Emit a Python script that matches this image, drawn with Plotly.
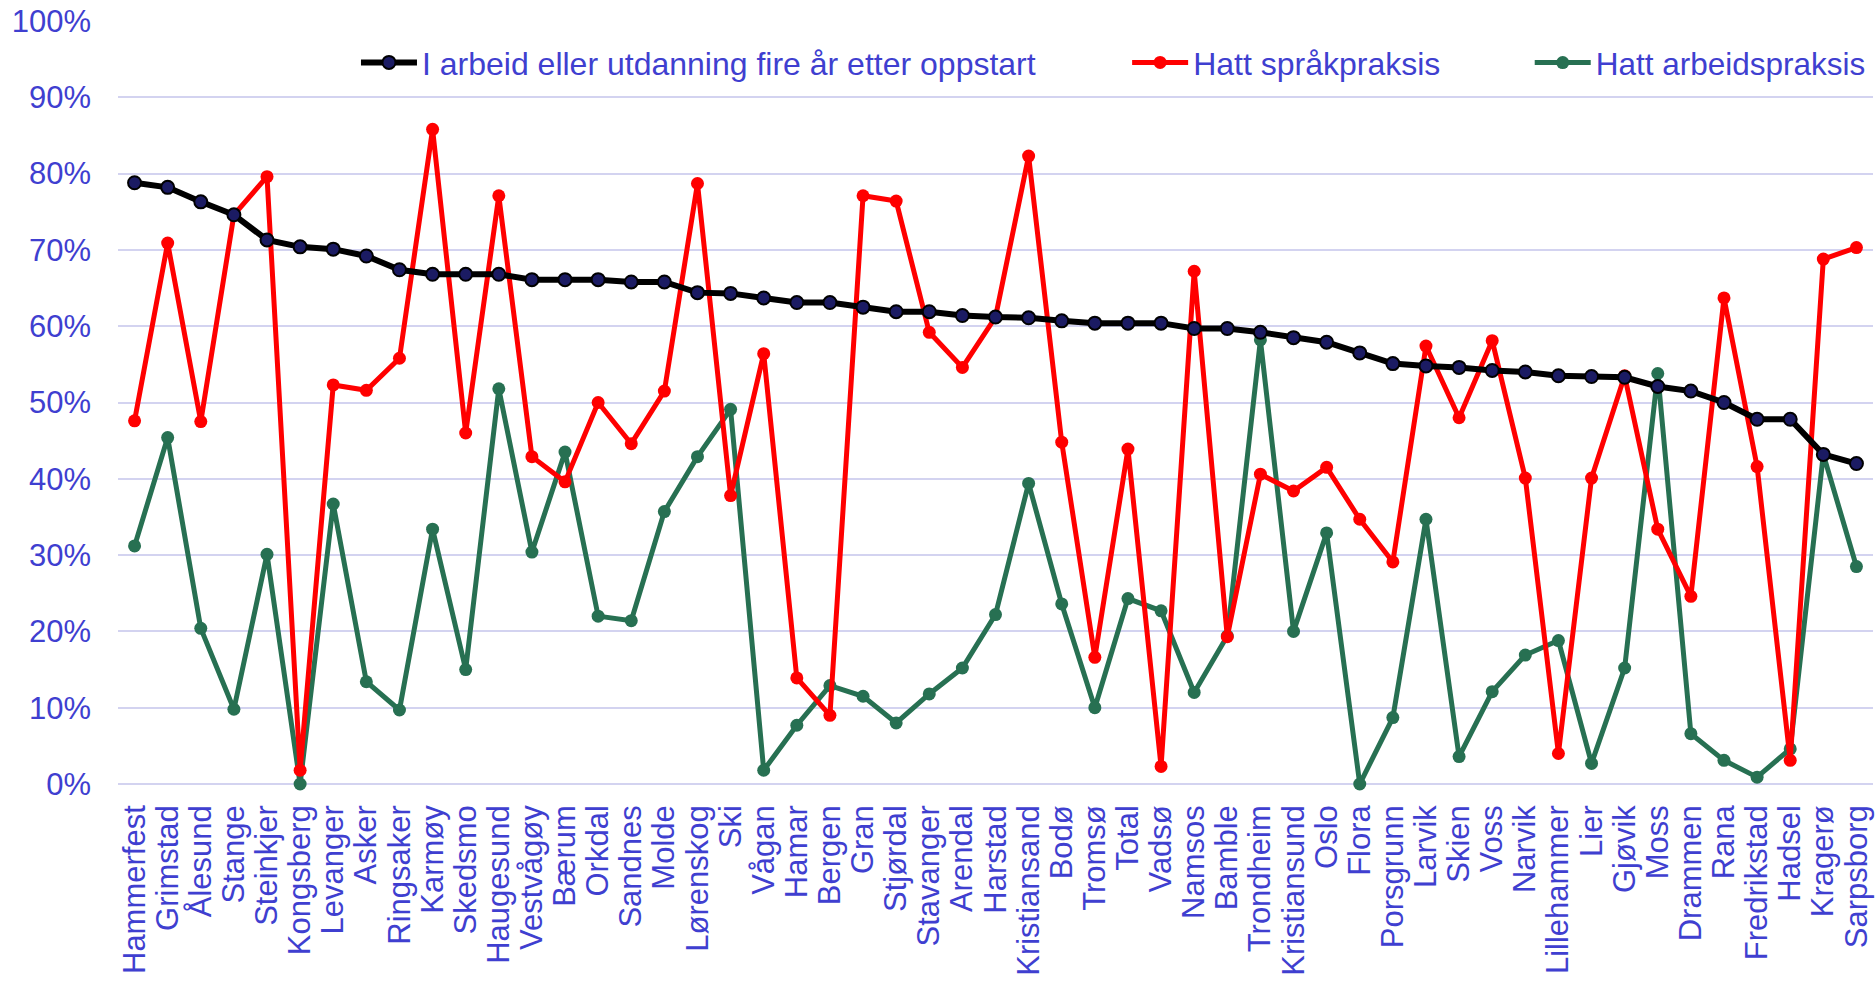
import plotly.graph_objects as go

kommuner = [
  'Hammerfest', 'Grimstad', 'Ålesund', 'Stange', 'Steinkjer', 'Kongsberg', 'Levanger',
  'Asker', 'Ringsaker', 'Karmøy', 'Skedsmo', 'Haugesund', 'Vestvågøy', 'Bærum',
  'Orkdal', 'Sandnes', 'Molde', 'Lørenskog', 'Ski', 'Vågan', 'Hamar', 'Bergen',
  'Gran', 'Stjørdal', 'Stavanger', 'Arendal', 'Harstad', 'Kristiansand', 'Bodø',
  'Tromsø', 'Total', 'Vadsø', 'Namsos', 'Bamble', 'Trondheim', 'Kristiansund',
  'Oslo', 'Flora', 'Porsgrunn', 'Larvik', 'Skien', 'Voss', 'Narvik', 'Lillehammer',
  'Lier', 'Gjøvik', 'Moss', 'Drammen', 'Rana', 'Fredrikstad', 'Hadsel', 'Kragerø',
  'Sarpsborg'
]

i_arbeid = [
  78.8, 78.2, 76.3, 74.6, 71.3, 70.4, 70.1, 69.2, 67.4, 66.8, 66.8, 66.8, 66.1, 66.1,
  66.1, 65.8, 65.8, 64.4, 64.3, 63.7, 63.1, 63.1, 62.5, 61.9, 61.9, 61.4, 61.2, 61.1,
  60.7, 60.4, 60.4, 60.4, 59.7, 59.7, 59.2, 58.5, 57.9, 56.5, 55.1, 54.8, 54.6, 54.2,
  54.0, 53.5, 53.4, 53.3, 52.1, 51.5, 50.0, 47.8, 47.8, 43.2, 42.0
]

spraakpraksis = [
  47.6, 70.9, 47.5, 74.6, 79.6, 1.8, 52.3, 51.6, 55.8, 85.8, 46.0, 77.1, 42.9, 39.6,
  50.0, 44.6, 51.5, 78.7, 37.8, 56.4, 13.9, 9.0, 77.1, 76.4, 59.2, 54.6, 61.2, 82.3,
  44.8, 16.6, 43.9, 2.3, 67.2, 19.3, 40.6, 38.4, 41.5, 34.7, 29.1, 57.4, 48.0, 58.1,
  40.1, 4.0, 40.1, 53.5, 33.4, 24.6, 63.7, 41.6, 3.1, 68.8, 70.3
]

arbeidspraksis = [
  31.2, 45.4, 20.4, 9.8, 30.1, 0.0, 36.7, 13.4, 9.7, 33.4, 15.0, 51.8, 30.4, 43.5,
  22.0, 21.4, 35.7, 42.9, 49.1, 1.8, 7.7, 12.9, 11.5, 8.0, 11.8, 15.2, 22.2, 39.4,
  23.6, 10.0, 24.3, 22.7, 12.0, 19.4, 58.2, 20.0, 32.9, 0.0, 8.7, 34.7, 3.6, 12.1,
  16.9, 18.8, 2.7, 15.2, 53.8, 6.6, 3.1, 0.9, 4.6, 43.2, 28.5
]

blue_text = '#3F3FD0'
font = 'Liberation Sans, Arial, sans-serif'

fig = go.Figure()

# green first, black last so the black line is drawn on top
fig.add_trace(go.Scatter(
  x = kommuner,
  y = [v / 100 for v in arbeidspraksis],
  mode = 'lines+markers',
  name = 'Hatt arbeidspraksis',
  line = dict(color = '#277052', width = 5),
  marker = dict(size = 13, color = '#277052'),
  cliponaxis = False,
  legend = 'legend3'
))

fig.add_trace(go.Scatter(
  x = kommuner,
  y = [v / 100 for v in spraakpraksis],
  mode = 'lines+markers',
  name = 'Hatt språkpraksis',
  line = dict(color = '#FF0000', width = 5),
  marker = dict(size = 13, color = '#FF0000'),
  cliponaxis = False,
  legend = 'legend2'
))

fig.add_trace(go.Scatter(
  x = kommuner,
  y = [v / 100 for v in i_arbeid],
  mode = 'lines+markers',
  name = 'I arbeid eller utdanning fire år etter oppstart',
  line = dict(color = '#000000', width = 6),
  marker = dict(size = 13, color = '#1B1B63', line = dict(color = '#000000', width = 2)),
  cliponaxis = False,
  legend = 'legend'
))

legend_style = dict(
  orientation = 'h',
  yanchor = 'middle',
  y = 0.9455,
  xanchor = 'left',
  bgcolor = 'rgba(0,0,0,0)',
  itemwidth = 56,
)

fig.update_layout(
  width = 1876,
  height = 987,
  showlegend = True,
  plot_bgcolor = '#ffffff',
  paper_bgcolor = '#ffffff',
  font = dict(family = font, size = 31, color = blue_text),
  margin = dict(l = 118, r = 3, t = 21, b = 203),
  legend = dict(legend_style, x = 0.1356, font = dict(size = 32, color = blue_text, family = font)),
  legend2 = dict(legend_style, x = 0.575, font = dict(size = 32, color = blue_text, family = font)),
  # last legend sits against the right edge; a bit smaller so it does not push the margin
  legend3 = dict(legend_style, x = 0.8044, font = dict(size = 31.5, color = blue_text, family = font)),
)

fig.update_xaxes(
  type = 'category',
  tickangle = -90,
  dtick = 1,
  range = [-0.5, len(kommuner) - 0.5],
  showgrid = False,
  automargin = False,
  ticklabelstandoff = 14,
  tickfont = dict(size = 31, color = blue_text, family = font),
)

fig.update_yaxes(
  range = [0, 1],
  tickformat = '.0%',
  dtick = 0.1,
  gridcolor = '#D3D3F0',
  gridwidth = 2,
  zeroline = True,
  zerolinecolor = '#D3D3F0',
  zerolinewidth = 2,
  automargin = False,
  ticklabelstandoff = 26,
  tickfont = dict(size = 31, color = blue_text, family = font),
)

fig.write_html(
  'out.html',
  config = {'displayModeBar': False},
  post_script = "document.body.style.margin = '0';"
)
